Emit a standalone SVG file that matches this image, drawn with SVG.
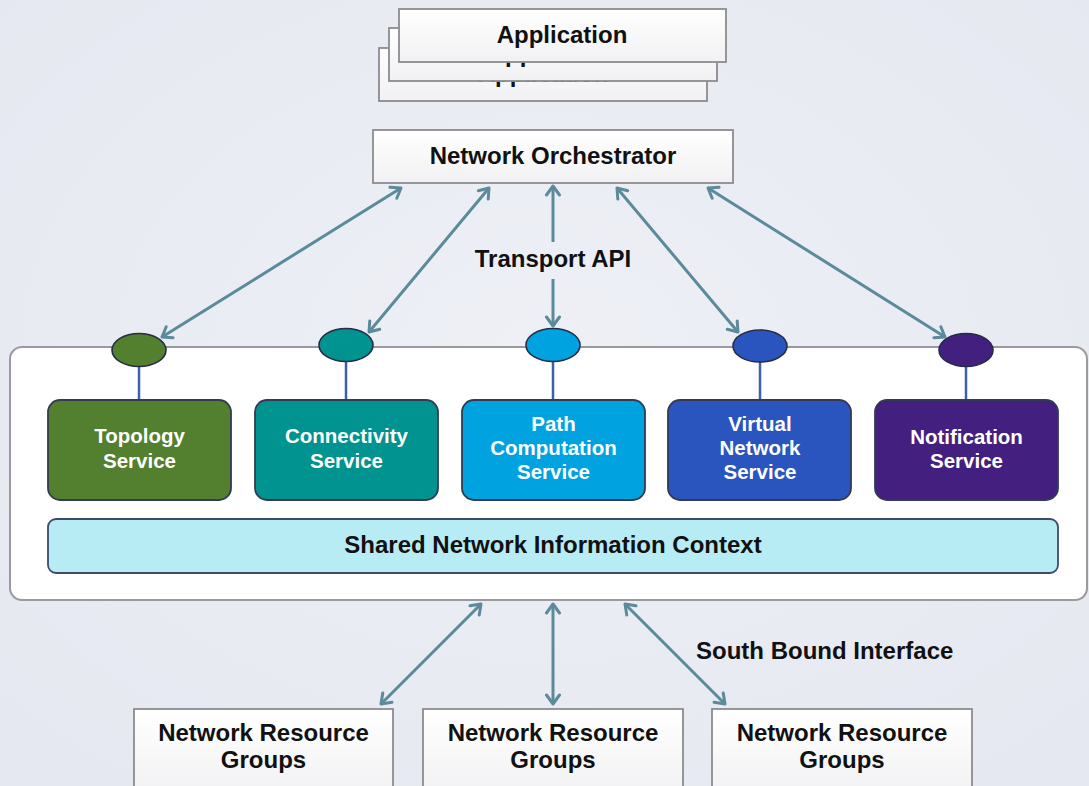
<svg xmlns="http://www.w3.org/2000/svg" width="1089" height="786" viewBox="0 0 1089 786">
<defs>
<linearGradient id="boxg" x1="0" y1="0" x2="0" y2="1"><stop offset="0" stop-color="#ffffff"/><stop offset="1" stop-color="#f1f1f3"/></linearGradient>
<radialGradient id="bgg" cx="0.5" cy="0.45" r="0.7"><stop offset="0" stop-color="#eef0f6"/><stop offset="1" stop-color="#e6e8f1"/></radialGradient>
<marker id="ah" markerUnits="userSpaceOnUse" markerWidth="16" markerHeight="18" refX="11" refY="8" orient="auto-start-reverse" viewBox="0 0 16 16">
<path d="M2,1.5 L11,8 L2,14.5" fill="none" stroke="#5b8b9b" stroke-width="3" stroke-linecap="round" stroke-linejoin="round"/>
</marker>
<style>
.wbox{fill:url(#boxg);stroke:#8c8c90;stroke-width:1.8}
.lbl{font-family:"Liberation Sans",Arial,sans-serif;font-weight:bold;font-size:24px;fill:#111;text-anchor:middle}
.svc{font-family:"Liberation Sans",Arial,sans-serif;font-weight:bold;font-size:20.5px;fill:#fff;text-anchor:middle}
.sbox{stroke:#333a52;stroke-width:1.8}
.ell{stroke:#262c48;stroke-width:1.6}
.stem{stroke:#3f5fa8;stroke-width:2.5}
.conn{stroke:#5b8b9b;stroke-width:3;fill:none}
</style>
</defs>
<rect x="0" y="0" width="1089" height="786" fill="url(#bgg)"/>

<g id="application">
<rect class="wbox" x="379" y="48" width="328" height="53"/>
<text class="lbl" x="543" y="82">Application</text>
<rect class="wbox" x="389" y="28" width="328" height="53"/>
<text class="lbl" x="553" y="62">Application</text>
<rect class="wbox" x="399" y="9" width="327" height="53"/>
<text class="lbl" x="562" y="43">Application</text>
</g>

<g id="orchestrator">
<rect class="wbox" x="373" y="130" width="360" height="53"/>
<text class="lbl" x="553" y="164">Network Orchestrator</text>
</g>

<g id="transport-label">
<text class="lbl" x="553" y="267">Transport API</text>
</g>

<g id="controller">
<rect x="10" y="347" width="1077" height="253" rx="12" fill="#ffffff" stroke="#9a9a9e" stroke-width="2"/>
</g>

<g id="topology">
<line class="stem" x1="139" y1="366" x2="139" y2="400"/>
<ellipse class="ell" cx="139" cy="350" rx="27" ry="16.5" fill="#52802f"/>
<rect class="sbox" x="48" y="400" width="183" height="100" rx="12" fill="#52802f"/>
<text class="svc" x="139.5" y="443">Topology</text>
<text class="svc" x="139.5" y="468">Service</text>
</g>

<g id="connectivity">
<line class="stem" x1="346" y1="361" x2="346" y2="400"/>
<ellipse class="ell" cx="346" cy="345" rx="27" ry="16.5" fill="#00938f"/>
<rect class="sbox" x="255" y="400" width="183" height="100" rx="12" fill="#00938f"/>
<text class="svc" x="346.5" y="443">Connectivity</text>
<text class="svc" x="346.5" y="468">Service</text>
</g>

<g id="path-computation">
<line class="stem" x1="553" y1="361" x2="553" y2="400"/>
<ellipse class="ell" cx="553" cy="345" rx="27" ry="16.5" fill="#00a3e0"/>
<rect class="sbox" x="462" y="400" width="183" height="100" rx="12" fill="#00a3e0"/>
<text class="svc" x="553.5" y="431">Path</text>
<text class="svc" x="553.5" y="455">Computation</text>
<text class="svc" x="553.5" y="479">Service</text>
</g>

<g id="virtual-network">
<line class="stem" x1="760" y1="362" x2="760" y2="400"/>
<ellipse class="ell" cx="760" cy="346" rx="27" ry="16" fill="#2a55be"/>
<rect class="sbox" x="668" y="400" width="183" height="100" rx="12" fill="#2a55be"/>
<text class="svc" x="760" y="431">Virtual</text>
<text class="svc" x="760" y="455">Network</text>
<text class="svc" x="760" y="479">Service</text>
</g>

<g id="notification">
<line class="stem" x1="966" y1="366" x2="966" y2="400"/>
<ellipse class="ell" cx="966" cy="350" rx="27" ry="16.5" fill="#43207f"/>
<rect class="sbox" x="875" y="400" width="183" height="100" rx="12" fill="#43207f"/>
<text class="svc" x="966.5" y="444">Notification</text>
<text class="svc" x="966.5" y="468">Service</text>
</g>

<g id="shared-context">
<rect x="48" y="519" width="1010" height="54" rx="8" fill="#b8ecf5" stroke="#3e4b6a" stroke-width="1.8"/>
<text class="lbl" x="553" y="553">Shared Network Information Context</text>
</g>

<g id="south-label">
<text class="lbl" x="696" y="659" text-anchor="start" style="text-anchor:start">South Bound Interface</text>
</g>

<g id="nrg1">
<rect class="wbox" x="134" y="709" width="259" height="90"/>
<text class="lbl" x="263.5" y="741">Network Resource</text>
<text class="lbl" x="263.5" y="768">Groups</text>
</g>
<g id="nrg2">
<rect class="wbox" x="423" y="709" width="260" height="90"/>
<text class="lbl" x="553" y="741">Network Resource</text>
<text class="lbl" x="553" y="768">Groups</text>
</g>
<g id="nrg3">
<rect class="wbox" x="712" y="709" width="260" height="90"/>
<text class="lbl" x="842" y="741">Network Resource</text>
<text class="lbl" x="842" y="768">Groups</text>
</g>

<g id="connectors">
<line class="conn" x1="401" y1="188" x2="162" y2="337" marker-start="url(#ah)" marker-end="url(#ah)"/>
<line class="conn" x1="489" y1="188" x2="369" y2="332" marker-start="url(#ah)" marker-end="url(#ah)"/>
<line class="conn" x1="553" y1="186" x2="553" y2="242" marker-start="url(#ah)"/>
<line class="conn" x1="553" y1="279" x2="553" y2="326" marker-end="url(#ah)"/>
<line class="conn" x1="617" y1="188" x2="738" y2="332" marker-start="url(#ah)" marker-end="url(#ah)"/>
<line class="conn" x1="708" y1="188" x2="945" y2="337" marker-start="url(#ah)" marker-end="url(#ah)"/>
<line class="conn" x1="481" y1="604" x2="381" y2="704" marker-start="url(#ah)" marker-end="url(#ah)"/>
<line class="conn" x1="553" y1="604" x2="553" y2="704" marker-start="url(#ah)" marker-end="url(#ah)"/>
<line class="conn" x1="625" y1="604" x2="725" y2="704" marker-start="url(#ah)" marker-end="url(#ah)"/>
</g>
</svg>
